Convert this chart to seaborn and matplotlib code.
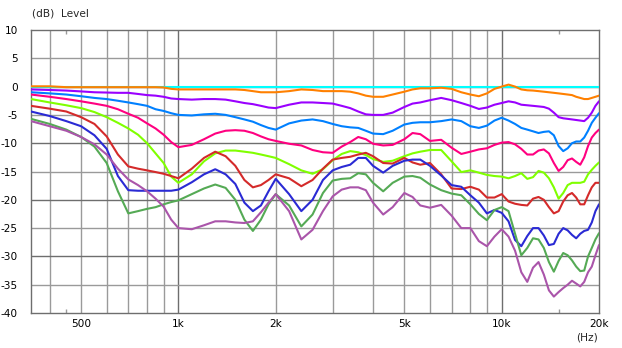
import matplotlib
matplotlib.use("Agg")
import matplotlib.pyplot as plt
import pandas as pd
import seaborn as sns

# ---------------- data ----------------
freq = [350, 400, 450, 500, 550, 600, 650, 700, 750, 800, 850, 900, 950, 1000,
        1100, 1200, 1300, 1400, 1500, 1600, 1700, 1800, 1900, 2000,
        2200, 2400, 2600, 2800, 3000, 3200, 3400, 3600, 3800, 4000,
        4300, 4600, 5000, 5300, 5600, 6000,
        6500, 7000, 7500, 8000, 8500, 9000, 9500, 10000,
        10500, 11000, 11500, 12000, 12500, 13000, 13500, 14000, 14500, 15000,
        15500, 16000, 16500, 17000, 17500, 18000, 18500, 19000, 19500, 20000]

level_cyan = [0.0, 0.0, 0.0, 0.0, 0.0, 0.0, 0.0, 0.0, 0.0, 0.0, 0.0, 0.0, 0.0, 0.0,
              0.0, 0.0, 0.0, 0.0, 0.0, 0.0, 0.0, 0.0, 0.0, 0.0,
              0.0, 0.0, 0.0, 0.0, 0.0, 0.0, 0.0, 0.0, 0.0, 0.0,
              0.0, 0.0, 0.0, 0.0, 0.0, 0.0,
              0.0, 0.0, 0.0, 0.0, 0.0, 0.0, 0.0, 0.0,
              0.0, 0.0, 0.0, 0.0, 0.0, 0.0, 0.0, 0.0, 0.0, 0.0,
              0.0, 0.0, 0.0, 0.0, 0.0, 0.0, 0.0, 0.0, 0.0, 0.0]

level_orange = [0.05, 0.05, -0.1, -0.1, -0.1, -0.1, -0.1, -0.1, -0.1, -0.1, -0.1, -0.15, -0.4, -0.5,
                -0.5, -0.5, -0.5, -0.5, -0.5, -0.6, -0.8, -1.0, -1.0, -1.0,
                -0.8, -0.5, -0.6, -0.8, -0.8, -0.8, -0.9, -1.2, -1.6, -1.8,
                -1.8, -1.4, -0.9, -0.5, -0.3, -0.3,
                -0.2, -0.4, -1.0, -1.4, -1.7, -1.2, -0.4, 0.0,
                0.35, 0.0, -0.5, -0.65, -0.7, -0.8, -0.9, -1.0, -1.1, -1.2,
                -1.3, -1.4, -1.5, -1.8, -2.0, -2.2, -2.2, -2.0, -1.8, -1.6]

level_purple = [-0.5, -0.6, -0.7, -0.85, -1.0, -1.05, -1.1, -1.1, -1.3, -1.5, -1.6, -1.8, -2.1, -2.2,
                -2.3, -2.2, -2.2, -2.3, -2.6, -2.9, -3.1, -3.4, -3.7, -3.8,
                -3.2, -2.8, -2.8, -2.9, -3.0, -3.4, -3.8, -4.4, -4.9, -5.0,
                -5.0, -4.6, -3.6, -3.0, -2.8, -2.4,
                -2.0, -2.4, -2.9, -3.4, -3.95, -3.7, -3.2, -2.9,
                -2.6, -2.8, -3.2, -3.3, -3.4, -3.5, -3.6, -3.9, -4.6, -5.4,
                -5.6, -5.7, -5.8, -5.9, -6.0, -6.1, -5.5, -4.6, -3.4, -2.6]

level_blue = [-1.0, -1.2, -1.4, -1.7, -2.0, -2.2, -2.5, -2.8, -3.1, -3.4, -4.0, -4.3, -4.7, -5.0,
              -5.1, -4.9, -4.8, -5.0, -5.4, -5.8, -6.2, -6.8, -7.3, -7.6,
              -6.5, -6.0, -5.8, -6.1, -6.6, -7.0, -7.2, -7.3, -7.8, -8.3,
              -8.4, -7.8, -6.7, -6.4, -6.3, -6.3,
              -6.1, -5.8, -6.1, -7.0, -7.3, -6.9, -6.0, -5.5,
              -6.0, -6.6, -7.3, -7.6, -7.9, -8.2, -8.0, -7.9, -8.6, -10.5,
              -11.4, -10.9, -10.0, -9.7, -9.7, -9.0, -7.8, -6.4, -5.5, -4.7]

level_magenta = [-1.4, -1.8, -2.2, -2.6, -3.0, -3.4, -4.0, -4.8, -5.5, -6.5, -7.4, -8.5, -9.8, -10.7,
                 -10.3, -9.3, -8.3, -7.8, -7.7, -7.8, -8.2, -8.8, -9.3, -9.6,
                 -10.1, -10.4, -11.2, -11.6, -11.7, -10.6, -9.8, -8.9, -9.3, -10.1,
                 -10.4, -10.3, -9.3, -8.2, -8.4, -9.6,
                 -9.4, -10.8, -11.9, -11.5, -11.1, -10.9, -10.3, -9.9,
                 -9.8, -10.2, -11.0, -12.0, -12.0, -11.3, -11.1, -11.8, -13.5, -14.9,
                 -14.2, -13.0, -12.7, -13.3, -13.8, -12.5, -10.5, -9.0, -8.2, -7.6]

level_lime = [-2.2, -2.8, -3.3, -3.8, -4.5, -5.4, -6.4, -7.4, -8.5, -10.0, -11.8, -13.5, -15.9, -17.0,
              -15.5, -13.2, -11.8, -11.3, -11.3, -11.5, -11.7, -12.0, -12.3, -12.6,
              -13.7, -14.8, -15.4, -14.6, -13.0, -11.9, -11.4, -11.6, -12.1, -12.8,
              -13.3, -13.1, -12.3, -11.8, -11.5, -11.2,
              -11.2, -13.2, -15.1, -14.8, -15.2, -15.6, -15.8, -15.9,
              -16.2, -15.8, -15.3, -16.3, -16.0, -14.9, -15.2, -16.2, -17.8, -19.8,
              -18.8, -17.4, -17.0, -17.0, -17.0, -16.8, -15.5, -14.7, -14.0, -13.4]

level_red = [-3.4, -3.9, -4.4, -5.4, -6.6, -8.8, -12.0, -14.1, -14.5, -14.8, -15.1, -15.4, -15.8, -16.2,
             -14.5, -12.6, -11.5, -12.3, -14.0, -16.5, -17.8, -17.4, -16.5, -15.5,
             -16.2, -17.6, -16.5, -14.5, -12.9, -12.6, -12.4, -12.0, -11.7, -12.3,
             -13.5, -13.6, -12.6, -13.4, -13.8, -13.5,
             -15.5, -18.0, -18.1, -17.7, -18.2, -19.6, -19.6, -19.0,
             -20.3, -20.7, -20.9, -21.0, -19.8, -19.5, -20.0, -21.3, -22.4, -22.0,
             -20.3, -19.2, -18.8, -19.6, -20.8, -20.8, -19.2, -17.8, -17.0, -17.0]

level_navy = [-4.4, -5.2, -6.1, -7.0, -8.6, -11.0, -15.8, -18.3, -18.4, -18.4, -18.4, -18.4, -18.4, -18.2,
              -16.9, -15.5, -14.6, -15.5, -17.2, -20.5, -22.0, -21.0, -18.5, -16.3,
              -19.0, -22.0, -20.0, -16.5, -14.8, -14.2, -13.8, -12.6, -12.6, -14.0,
              -15.2, -14.0, -13.1, -12.9, -12.9, -14.0,
              -15.7, -17.4, -17.7, -19.2, -20.5, -22.4, -21.8, -22.3,
              -23.8, -27.1, -28.2, -26.4, -25.0, -25.0, -26.3, -28.0, -27.8, -26.0,
              -25.0, -25.4, -26.2, -26.8, -26.0, -25.5, -25.3, -24.0, -22.0, -20.8]

level_green = [-5.7, -6.6, -7.6, -8.9, -10.6, -13.5, -18.5, -22.4, -22.0, -21.6, -21.3, -20.8, -20.4, -20.1,
               -19.0, -18.0, -17.3, -17.9, -20.0, -23.5, -25.5, -23.5, -20.8, -19.0,
               -21.0, -24.7, -22.6, -18.8, -16.6, -16.3, -16.2, -15.3, -15.5, -17.0,
               -18.5, -17.0, -15.9, -15.8, -16.1, -17.3,
               -18.3, -18.9, -19.2, -20.8, -22.5, -23.6, -21.8, -21.3,
               -22.0, -26.0, -29.8, -28.5, -26.8, -27.0, -28.5, -31.0, -32.7, -30.8,
               -29.4, -29.8, -30.7, -31.8, -32.6, -32.5, -30.0, -28.5, -27.0, -25.9]

level_mauve = [-6.1, -7.0, -7.8, -8.9, -10.2, -12.0, -14.5, -16.4, -17.4, -18.5, -19.8, -21.2, -23.5, -25.0,
               -25.2, -24.5, -23.8, -23.8, -24.0, -24.1, -23.8, -22.2, -20.5, -19.0,
               -22.0, -27.0, -25.3, -22.0, -19.4, -18.2, -17.8, -17.8, -18.3, -20.5,
               -22.6, -21.3, -18.8, -19.5, -21.0, -21.4,
               -20.9, -22.8, -25.0, -25.0, -27.3, -28.2, -26.5, -25.2,
               -26.5, -29.0, -32.8, -34.5, -32.0, -31.0, -33.2, -36.0, -37.1, -36.3,
               -35.6, -35.0, -34.3, -34.8, -35.3, -34.5, -32.8, -31.8, -29.8, -28.0]

series_names = ["cyan", "orange", "purple", "blue", "magenta",
                "lime", "red", "navy", "green", "mauve"]
series_levels = [level_cyan, level_orange, level_purple, level_blue, level_magenta,
                 level_lime, level_red, level_navy, level_green, level_mauve]
series_colors = ["#00FFFF", "#FF8000", "#9A00FF", "#0080FF", "#FF0080",
                 "#80FF00", "#D42A2A", "#2A2AD4", "#55AA55", "#AA55AA"]

y_ticks = [10, 5, 0, -5, -10, -15, -20, -25, -30, -35, -40]
x_ticks = [500, 1000, 2000, 5000, 10000, 20000]
x_tick_labels = ["500", "1k", "2k", "5k", "10k", "20k"]

# ---------------- figure ----------------
sns.set_theme(style="white")
plt.rcParams['font.family'] = ['DejaVu Sans']
plt.rcParams['axes.unicode_minus'] = False

W, H = 622, 348
fig = plt.figure(figsize=(W / 100, H / 100), dpi=100)
fig.patch.set_facecolor("white")
ax = fig.add_axes([31 / W, 1 - 313 / H, (599 - 31) / W, (313 - 30) / H])
ax.set_facecolor("white")

# grid
light, dark = "#9a9a9a", "#6e6e6e"
for f in [400, 500, 600, 700, 800, 900, 2000, 3000, 4000, 5000, 6000, 7000, 8000, 9000]:
    ax.axvline(f, color=light, lw=1.0, zorder=0)
for f in [1000, 10000]:
    ax.axvline(f, color=dark, lw=1.0, zorder=0)
for v in [5, -5, -15, -25, -35]:
    ax.axhline(v, color=light, lw=1.0, zorder=0)
for v in [0, -10, -20, -30]:
    ax.axhline(v, color=dark, lw=1.0, zorder=0)

df = pd.concat([pd.DataFrame({"freq": freq, "level": lv, "series": name})
                for name, lv in zip(series_names, series_levels)], ignore_index=True)

sns.lineplot(data=df, x="freq", y="level", hue="series", hue_order=series_names,
             palette=dict(zip(series_names, series_colors)), estimator=None,
             sort=False, linewidth=1.5, legend=False, ax=ax, zorder=3)

ax.set_xscale("log")
ax.set_xlim(350, 20000)
ax.set_ylim(-40, 10)

ax.xaxis.set_major_locator(matplotlib.ticker.FixedLocator(x_ticks))
ax.xaxis.set_major_formatter(matplotlib.ticker.FixedFormatter(x_tick_labels))
ax.xaxis.set_minor_locator(matplotlib.ticker.FixedLocator([450, 15000]))
ax.xaxis.set_minor_formatter(matplotlib.ticker.NullFormatter())
ax.set_yticks(y_ticks)
ax.set_yticklabels([str(v) for v in y_ticks])

ax.tick_params(axis="x", which="major", length=0, pad=4.5, labelsize=7.6, colors="black")
ax.tick_params(axis="x", which="minor", direction="in", length=3, width=1,
               color=light, top=True, bottom=True)
ax.tick_params(axis="y", which="major", length=0, pad=9.5, labelsize=7.6, colors="black")

ax.set_xlabel("")
ax.set_ylabel("")
for sp in ax.spines.values():
    sp.set_color(dark)
    sp.set_linewidth(1.0)
    sp.set_visible(True)

fig.text(32 / W, 1 - 13 / H, "(dB)  Level", ha="left", va="center", fontsize=7.6)
fig.text(587 / W, 1 - 337 / H, "(Hz)", ha="center", va="center", fontsize=7.6)

fig.savefig("out.png", dpi=100, facecolor="white")
